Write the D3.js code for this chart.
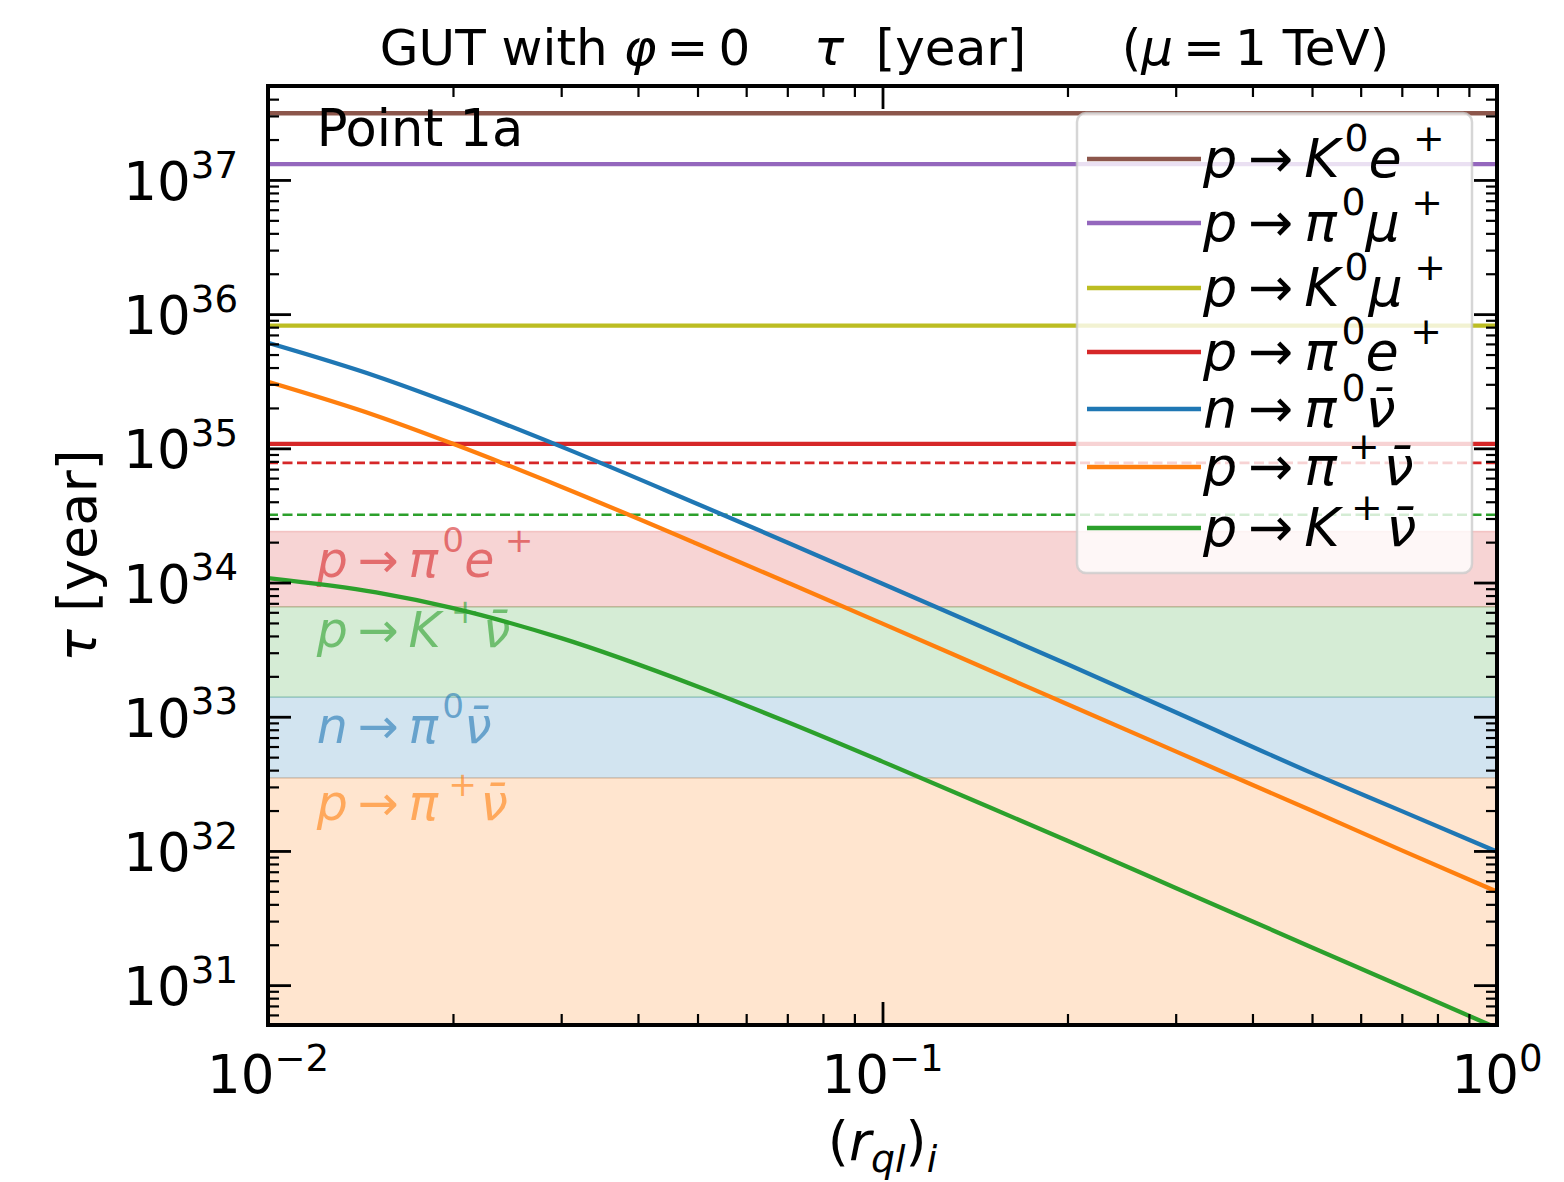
<!DOCTYPE html>
<html>
<head>
<meta charset="utf-8">
<script src="https://cdn.jsdelivr.net/npm/d3@7"></script>
<style>
body { margin: 0; background: #fff; }
text { font-family: "DejaVu Sans", sans-serif; white-space: pre; }
</style>
</head>
<body>
<div class="chart"></div>
<script>
// ---- data ----
var rValues = [0.01, 0.015, 0.02, 0.03, 0.05, 0.07, 0.1, 0.15, 0.2, 0.3, 0.5, 0.7, 1.0];
var tauNPi0Nubar = [6.12e35, 3.45e35, 2.14e35, 1.03e35, 3.85e34, 1.99e34, 9.8e33, 4.37e33, 2.46e33, 1.08e33, 3.8e32, 1.98e32, 9.87e31];
var tauPPipNubar = [3.13e35, 1.75e35, 1.08e35, 5.18e34, 1.94e34, 1.0e34, 4.94e33, 2.20e33, 1.24e33, 5.52e32, 1.99e32, 1.01e32, 4.97e31];
var tauPKpNubar  = [1.08e34, 8.45e33, 6.45e33, 3.85e33, 1.68e33, 9.13e32, 4.63e32, 2.10e32, 1.19e32, 5.30e31, 1.91e31, 9.77e30, 4.79e30];

var flatChannels = ["p → K^0e^+", "p → π^0μ^+", "p → K^0μ^+", "p → π^0e^+"];
var flatTau = [3.14e37, 1.31e37, 8.2e35, 1.08e35];

var futureChannels = ["p → π^0e^+", "p → K^+ν̄"];
var futureTau = [7.8e34, 3.2e34];

var boundChannels = ["p → π^0e^+", "p → K^+ν̄", "n → π^0ν̄", "p → π^+ν̄"];
var boundTau = [2.4e34, 6.6e33, 1.4e33, 3.5e32];
var boundLabelTau = [1.1e34, 3.3e33, 6.4e32, 1.7e32];

var curveChannels = ["n → π^0ν̄", "p → π^+ν̄", "p → K^+ν̄"];
var curveTau = [tauNPi0Nubar, tauPPipNubar, tauPKpNubar];

var legendChannels = ["p → K^0e^+", "p → π^0μ^+", "p → K^0μ^+", "p → π^0e^+", "n → π^0ν̄", "p → π^+ν̄", "p → K^+ν̄"];

var xMajor = [0.01, 0.1, 1];
var xMajorLabels = ["10^{−2}", "10^{−1}", "10^0"];
var yMajor = [1e31, 1e32, 1e33, 1e34, 1e35, 1e36, 1e37];
var yMajorLabels = ["10^{31}", "10^{32}", "10^{33}", "10^{34}", "10^{35}", "10^{36}", "10^{37}"];

// ---- styles ----
var colors = {
    "p → K^0e^+": "#8c564b",
    "p → π^0μ^+": "#9467bd",
    "p → K^0μ^+": "#bcbd22",
    "p → π^0e^+": "#d62728",
    "n → π^0ν̄": "#1f77b4",
    "p → π^+ν̄": "#ff7f0e",
    "p → K^+ν̄": "#2ca02c"
};

var options = {
    width: 1564,
    height: 1182,
    left: 268,
    right: 1497,
    top: 86,
    bottom: 1025,
    fs: 50
};

var svg = d3.select(".chart").append("svg")
    .attr("width", options.width)
    .attr("height", options.height);

var x = d3.scaleLog().domain([0.01, 1]).range([options.left, options.right]);
var y = d3.scaleLog().domain([Math.pow(10, 30.703), Math.pow(10, 37.70)]).range([options.bottom, options.top]);

svg.append("clipPath").attr("id", "plot")
    .append("rect")
    .attr("x", options.left).attr("y", options.top)
    .attr("width", options.right - options.left)
    .attr("height", options.bottom - options.top);

// parse a tiny math-like string: $..$ = math (italic letters, no spaces), ^ sup, _ sub
function mathParts(str) {
    var parts = [], math = false;
    for (var i = 0; i < str.length; i++) {
        var c = str[i];
        if (c === "$") { math = !math; continue; }
        if (math && c === " ") continue;
        if (c === "^" || c === "_") {
            var s = str[i + 1], j = i + 1;
            if (s === "{") { j = str.indexOf("}", i); s = str.slice(i + 2, j); }
            parts.push({t: s, k: c === "^" ? "sup" : "sub", it: math && /[A-Za-zα-ω]/.test(s)});
            i = j;
            continue;
        }
        if (c === "\u0304") { parts[parts.length - 1].t += c; continue; }
        if (math && (c === "=" || c === "→")) { parts.push({t: c, k: "n", rel: true}); continue; }
        var it = math && /[A-Za-zα-ω]/.test(c);
        var last = parts[parts.length - 1];
        if (last && last.k === "n" && !last.it && !last.rel && !it) { last.t += c; continue; }
        parts.push({t: c, k: "n", it: it});
    }
    return parts;
}

function mathText(g, str, fs, opt) {
    opt = opt || {};
    var sup = opt.sup || 0.45, sub = opt.sub || 0.25;
    var t = g.append("text").attr("font-size", fs);
    var shift = 0, prev = null;
    mathParts(str).forEach(function (p) {
        var s = t.append("tspan").text(p.t);
        var target = p.k === "sup" ? -fs * sup : p.k === "sub" ? fs * sub : 0;
        if (target !== shift) { s.attr("dy", target - shift); shift = target; }
        if (p.k !== "n") s.attr("font-size", fs * 0.7);
        if (p.it) s.attr("font-style", "italic");
        var dx = 0;
        if (p.rel) dx += fs * 0.2;
        if (prev && prev.rel) dx += fs * 0.2;
        if (p.k === "sup" && prev && prev.it) dx += fs * 0.09;
        if (p.k === "sup" && p.t === "+") dx += fs * 0.12;
        if (prev && prev.k === "sup" && prev.t === "+") dx += fs * 0.07;
        if (dx) s.attr("dx", dx);
        prev = p;
    });
    return t;
}

// ---- excluded regions ----
var bands = svg.append("g").attr("clip-path", "url(#plot)");
boundTau.forEach(function (v, i) {
    var low = i + 1 < boundTau.length ? boundTau[i + 1] : y.domain()[0];
    bands.append("rect")
        .attr("x", options.left)
        .attr("y", y(v))
        .attr("width", options.right - options.left)
        .attr("height", y(low) - y(v))
        .attr("fill", colors[boundChannels[i]])
        .attr("fill-opacity", 0.2)
        .attr("stroke", colors[boundChannels[i]])
        .attr("stroke-opacity", 0.2)
        .attr("stroke-width", 1.5);
});

boundChannels.forEach(function (c, i) {
    mathText(svg, "$" + c + "$", 49, {sup: 0.5})
        .attr("x", x(0.012))
        .attr("y", y(boundLabelTau[i]))
        .attr("fill", colors[c])
        .attr("fill-opacity", 0.6);
});

// ---- lines ----
var plot = svg.append("g").attr("clip-path", "url(#plot)");

futureChannels.forEach(function (c, i) {
    plot.append("line")
        .attr("x1", x(0.01)).attr("x2", x(1))
        .attr("y1", y(futureTau[i])).attr("y2", y(futureTau[i]))
        .attr("stroke", colors[c])
        .attr("stroke-width", 2.7)
        .attr("stroke-dasharray", "10,4.5");
});

flatChannels.forEach(function (c, i) {
    plot.append("line")
        .attr("x1", x(0.01)).attr("x2", x(1))
        .attr("y1", y(flatTau[i])).attr("y2", y(flatTau[i]))
        .attr("stroke", colors[c])
        .attr("stroke-width", 4.3);
});

var line = d3.line()
    .x(function (d) { return x(d[0]); })
    .y(function (d) { return y(d[1]); })
    .curve(d3.curveMonotoneX);

curveChannels.forEach(function (c, i) {
    plot.append("path")
        .datum(rValues.map(function (r, k) { return [r, curveTau[i][k]]; }))
        .attr("d", line)
        .attr("fill", "none")
        .attr("stroke", colors[c])
        .attr("stroke-width", 4.3);
});

mathText(svg, "Point 1a", 51)
    .attr("x", x(0.012))
    .attr("y", y(1.8e37));

// ---- legend ----
var legendRowY = [159, 223, 288, 352, 409, 467, 528];
var legend = svg.append("g");
legend.append("rect")
    .attr("x", 1077).attr("y", 113)
    .attr("width", 395).attr("height", 460)
    .attr("rx", 9)
    .attr("fill", "#fff").attr("fill-opacity", 0.8)
    .attr("stroke", "#cccccc").attr("stroke-opacity", 0.8)
    .attr("stroke-width", 2.5);
legendChannels.forEach(function (c, i) {
    legend.append("line")
        .attr("x1", 1087).attr("x2", 1201)
        .attr("y1", legendRowY[i]).attr("y2", legendRowY[i])
        .attr("stroke", colors[c])
        .attr("stroke-width", 4.3);
    mathText(legend, "$" + c + "$", 54, {sup: 0.48})
        .attr("x", 1203)
        .attr("y", legendRowY[i] + 18);
});

// ---- axes ----
function minorTicks(lo, hi, domain) {
    var arr = [];
    for (var e = lo; e <= hi; e++) {
        for (var m = 2; m <= 9; m++) {
            var v = m * Math.pow(10, e);
            if (v >= domain[0] && v <= domain[1]) arr.push(v);
        }
    }
    return arr;
}
var xMinor = minorTicks(-2, -1, x.domain());
var yMinor = minorTicks(30, 37, y.domain());

function drawAxis(axisFn, scale, values, size, width, tr) {
    var g = svg.append("g")
        .attr("transform", tr)
        .call(axisFn(scale).tickValues(values).tickSizeInner(-size).tickSizeOuter(0).tickFormat(""));
    g.select(".domain").remove();
    g.selectAll(".tick line").attr("stroke", "#000").attr("stroke-width", width);
}

drawAxis(d3.axisBottom, x, xMajor, 23, 2.8, "translate(0," + options.bottom + ")");
drawAxis(d3.axisBottom, x, xMinor, 11, 2.2, "translate(0," + options.bottom + ")");
drawAxis(d3.axisTop, x, xMajor, 23, 2.8, "translate(0," + options.top + ")");
drawAxis(d3.axisTop, x, xMinor, 11, 2.2, "translate(0," + options.top + ")");
drawAxis(d3.axisLeft, y, yMajor, 23, 2.8, "translate(" + options.left + ",0)");
drawAxis(d3.axisLeft, y, yMinor, 11, 2.2, "translate(" + options.left + ",0)");
drawAxis(d3.axisRight, y, yMajor, 23, 2.8, "translate(" + options.right + ",0)");
drawAxis(d3.axisRight, y, yMinor, 11, 2.2, "translate(" + options.right + ",0)");

svg.append("rect")
    .attr("x", options.left).attr("y", options.top)
    .attr("width", options.right - options.left)
    .attr("height", options.bottom - options.top)
    .attr("fill", "none")
    .attr("stroke", "#000")
    .attr("stroke-width", 4);

xMajor.forEach(function (v, i) {
    mathText(svg, xMajorLabels[i], 53, {sup: 0.42})
        .attr("x", x(v))
        .attr("y", options.bottom + 68)
        .attr("text-anchor", "middle");
});
yMajor.forEach(function (v, i) {
    mathText(svg, yMajorLabels[i], 53, {sup: 0.42})
        .attr("x", 238)
        .attr("y", y(v) + 20)
        .attr("text-anchor", "end");
});

// ---- titles ----
mathText(svg, "GUT with $φ = 0$    $τ$  [year]      ($μ = 1$ TeV)", options.fs)
    .attr("x", (options.left + options.right) / 2 + 2)
    .attr("y", 65)
    .attr("text-anchor", "middle");

mathText(svg, "$(r_{ql})_i$", 54, {sub: 0.22})
    .attr("x", (options.left + options.right) / 2)
    .attr("y", 1160)
    .attr("text-anchor", "middle");

mathText(svg, "$τ$ [year]", 54)
    .attr("text-anchor", "middle")
    .attr("transform", "translate(96," + ((options.top + options.bottom) / 2) + ") rotate(-90)");
</script>
</body>
</html>
